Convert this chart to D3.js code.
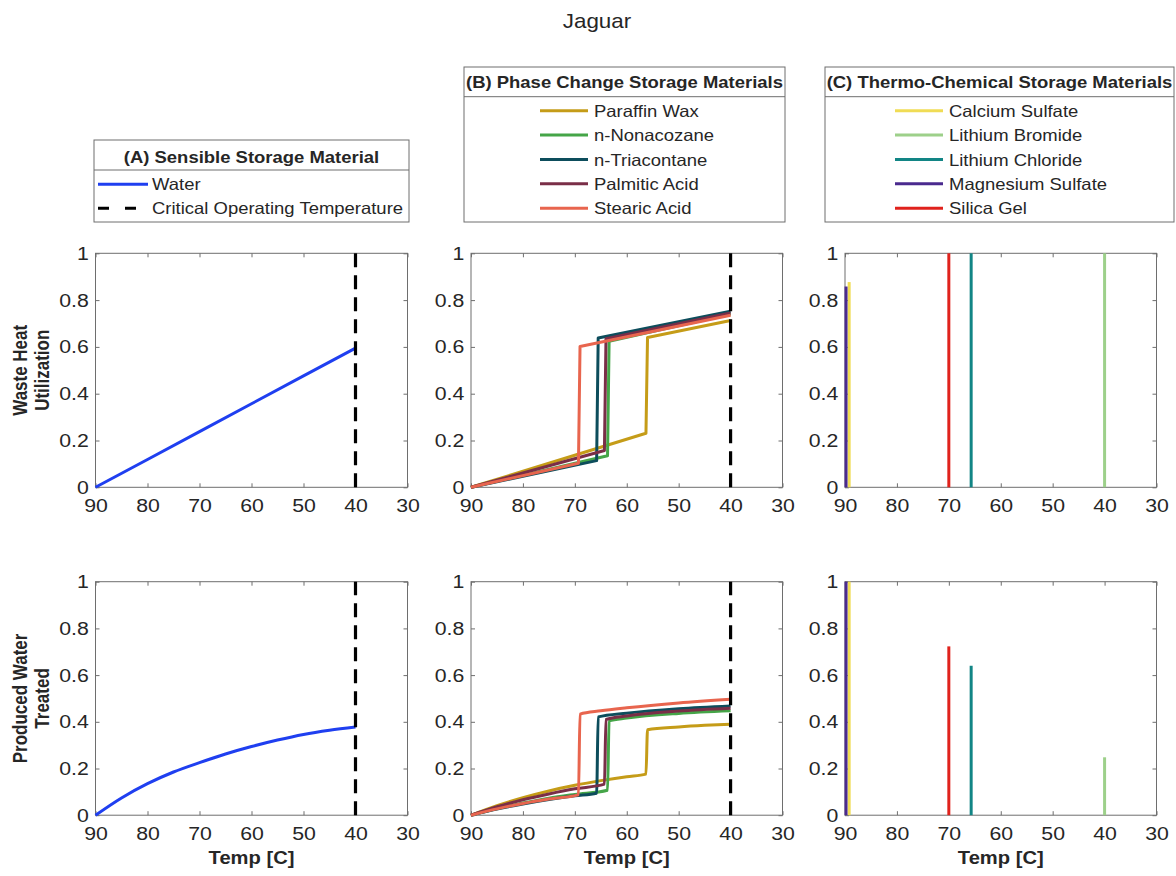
<!DOCTYPE html>
<html><head><meta charset="utf-8">
<script src="https://cdn.jsdelivr.net/npm/d3@7"></script>
<style>body{margin:0;background:#fff} svg{font-family:"Liberation Sans",Arial,sans-serif}</style>
</head><body><svg id="c" width="1176" height="876"></svg>
<script>
// ---------- DATA ----------
const tempTicks = [90, 80, 70, 60, 50, 40, 30];
const yTicks = [0, 0.2, 0.4, 0.6, 0.8, 1];
const criticalTemp = 40;

// (A) Sensible: water  [temp, value]
const waterWaste = [[90,0],[80,0.119],[70,0.238],[60,0.357],[50,0.476],[40,0.595]];
const waterTreated = [[90,0],[85,0.074],[80,0.135],[75,0.185],[70,0.225],[65,0.262],[60,0.294],[55,0.322],[50,0.346],[45,0.364],[40,0.378]];

// (B) Phase change materials
const pcmNames = ["Paraffin Wax","n-Nonacozane","n-Triacontane","Palmitic Acid","Stearic Acid"];
const paraffinWaste    = [[90,0],[56.3,0.231],[56.0,0.640],[40,0.713]];
const nonacozaneWaste  = [[90,0],[63.7,0.135],[63.4,0.624],[40,0.740]];
const triacontaneWaste = [[90,0],[65.8,0.114],[65.5,0.638],[40,0.752]];
const palmiticWaste    = [[90,0],[64.3,0.157],[64.0,0.635],[40,0.745]];
const stearicWaste     = [[90,0],[69.3,0.103],[69.0,0.602],[40,0.735]];

const paraffinTreated    = [[90,0],[85,0.041],[80,0.075],[75,0.104],[70,0.128],[65,0.148],[60,0.165],[56.3,0.176],[56.0,0.366],[50,0.378],[45,0.385],[40,0.390]];
const nonacozaneTreated  = [[90,0],[85,0.029],[80,0.052],[75,0.073],[70,0.089],[63.7,0.107],[63.4,0.404],[60,0.416],[50,0.436],[40,0.447]];
const triacontaneTreated = [[90,0],[85,0.026],[80,0.048],[75,0.067],[70,0.083],[65.8,0.094],[65.5,0.421],[60,0.437],[50,0.456],[40,0.468]];
const palmiticTreated    = [[90,0],[85,0.036],[80,0.066],[75,0.091],[70,0.113],[64.3,0.133],[64.0,0.410],[60,0.425],[50,0.446],[40,0.458]];
const stearicTreated     = [[90,0],[85,0.027],[80,0.050],[75,0.069],[69.3,0.087],[69.0,0.433],[65,0.447],[60,0.460],[50,0.481],[40,0.497]];

// (C) Thermo-chemical materials (single temperature each)
const tcmNames   = ["Calcium Sulfate","Lithium Bromide","Lithium Chloride","Magnesium Sulfate","Silica Gel"];
const tcmTemp    = [89.2, 40, 65.7, 89.8, 70];
const tcmWaste   = [0.877, 1, 1, 0.858, 1];
const tcmTreated = [1, 0.248, 0.64, 1, 0.723];

// ---------- STYLE ----------
const waterColor = "#1f3ff0";
const pcmColors = ["#c59c18","#45a548","#0d4d5c","#7a2e47","#e8654e"];
const tcmColors = ["#f0dc55","#9dd08a","#128585","#4a2a8e","#e0221c"];
const SX = 1.12;
const textColor = "#262626";
const axisColor = "#6e6e6e";

const svg = d3.select("#c");
const panelX = [[95.5,407.5],[471,782.5],[845,1156.5]];
const rowY = [[253.3,487.3],[581.7,815.2]];

function stext(parent, x, y, str, opts) {
  const sx = opts.sx || SX;
  const g = parent.append("g").attr("transform", `translate(${x},${y}) scale(${sx},1)` + (opts.rotate ? " rotate(-90)" : ""));
  g.append("text").attr("x",0).attr("y",0)
    .attr("text-anchor", opts.anchor || "middle")
    .attr("font-size", opts.size)
    .attr("font-weight", opts.bold ? "bold" : "normal")
    .attr("fill", opts.fill || textColor)
    .text(str);
  return g;
}

function makePanel(col, row) {
  const x = d3.scaleLinear().domain([90,30]).range(panelX[col]);
  const y = d3.scaleLinear().domain([0,1]).range([rowY[row][1], rowY[row][0]]);
  const g = svg.append("g");
  const [x0,x1] = x.range(); const [yb,yt] = y.range();
  const styleAxis = (a) => { a.attr("color", axisColor); a.select(".domain").remove(); };
  const bottom = g.append("g").attr("transform",`translate(0,${yb})`)
    .call(d3.axisBottom(x).tickValues(tempTicks).tickSizeInner(-4).tickSizeOuter(0).tickPadding(11).tickFormat(d=>String(d)));
  styleAxis(bottom);
  bottom.selectAll("text").attr("font-size",19).attr("fill",textColor).attr("font-family","Liberation Sans, Arial, sans-serif").attr("transform",`scale(${SX},1)`);
  const left = g.append("g").attr("transform",`translate(${x0},0)`)
    .call(d3.axisLeft(y).tickValues(yTicks).tickSizeInner(-4).tickSizeOuter(0).tickPadding(6).tickFormat(d=>String(d)));
  styleAxis(left);
  left.selectAll("text").attr("font-size",19).attr("fill",textColor).attr("font-family","Liberation Sans, Arial, sans-serif").attr("transform",`scale(${SX},1)`);
  const top = g.append("g").attr("transform",`translate(0,${yt})`)
    .call(d3.axisTop(x).tickValues(tempTicks).tickSizeInner(-4).tickSizeOuter(0).tickFormat(""));
  styleAxis(top);
  const right = g.append("g").attr("transform",`translate(${x1},0)`)
    .call(d3.axisRight(y).tickValues(yTicks).tickSizeInner(-4).tickSizeOuter(0).tickFormat(""));
  styleAxis(right);
  g.append("rect").attr("x",x0).attr("y",yt).attr("width",x1-x0).attr("height",yb-yt)
    .attr("fill","none").attr("stroke",axisColor).attr("stroke-width",1);
  const line = d3.line().x(d=>x(d[0])).y(d=>y(d[1]));
  const smooth = d3.line().x(d=>x(d[0])).y(d=>y(d[1])).curve(d3.curveMonotoneX);
  return {g, x, y, line, smooth};
}

function drawLine(p, data, color, width, dash, smooth) {
  p.g.append("path").datum(data).attr("d", smooth ? p.smooth : p.line)
    .attr("fill","none").attr("stroke",color).attr("stroke-width",width)
    .attr("stroke-linejoin","round")
    .attr("stroke-dasharray", dash || null);
}

function criticalLine(p) {
  drawLine(p, [[criticalTemp,0],[criticalTemp,1]], "#000", 3.2, "14,8");
}

// ---------- PANELS ----------
const pcmWaste = [paraffinWaste, nonacozaneWaste, triacontaneWaste, palmiticWaste, stearicWaste];
const pcmTreated = [paraffinTreated, nonacozaneTreated, triacontaneTreated, palmiticTreated, stearicTreated];

[0,1].forEach(row => {
  // A
  const pa = makePanel(0,row);
  drawLine(pa, row===0 ? waterWaste : waterTreated, waterColor, 3, null, row===1);
  criticalLine(pa);
  // B
  const pb = makePanel(1,row);
  (row===0 ? pcmWaste : pcmTreated).forEach((d,i) => drawLine(pb, d, pcmColors[i], 3, null, row===1));
  criticalLine(pb);
  // C
  const pc = makePanel(2,row);
  const vals = row===0 ? tcmWaste : tcmTreated;
  tcmNames.forEach((n,i) => drawLine(pc, [[tcmTemp[i],0],[tcmTemp[i],vals[i]]], tcmColors[i], 3));
});

// ---------- LABELS ----------
stext(svg, 597, 28, "Jaguar", {size:20});

const ylabels = [["Waste Heat","Utilization"],["Produced Water","Treated"]];
ylabels.forEach((lab,row) => {
  const cy = (rowY[row][0]+rowY[row][1])/2;
  stext(svg, 20+6.5, cy, lab[0], {size:17, bold:true, rotate:true, sx:1.18});
  stext(svg, 42+6.5, cy, lab[1], {size:17, bold:true, rotate:true, sx:1.18});
});

panelX.forEach(px => {
  stext(svg, (px[0]+px[1])/2, 864, "Temp [C]", {size:18, bold:true});
});

// ---------- LEGENDS ----------
function legend(box, title, titleY, divY, entries, lx0, lx1, tx) {
  const g = svg.append("g");
  g.append("rect").attr("x",box[0]).attr("y",box[1]).attr("width",box[2]-box[0]).attr("height",box[3]-box[1])
    .attr("fill","#fff").attr("stroke","#6e6e6e").attr("stroke-width",1);
  g.append("line").attr("x1",box[0]).attr("x2",box[2]).attr("y1",divY).attr("y2",divY)
    .attr("stroke","#6e6e6e").attr("stroke-width",1);
  stext(g, (box[0]+box[2])/2, titleY+6, title, {size:16.5, bold:true});
  entries.forEach(e => {
    g.append("line").attr("x1",lx0).attr("x2",lx1).attr("y1",e.y).attr("y2",e.y)
      .attr("stroke",e.color).attr("stroke-width",3).attr("stroke-dasharray",e.dash||null);
    stext(g, tx, e.y+6, e.label, {size:16.5, anchor:"start"});
  });
}

const entryY = [110.7, 135, 159.5, 183.7, 208.3];
legend([94,140,409,222], "(A) Sensible Storage Material", 156.7, 170,
  [{label:"Water", color:waterColor, y:184.3},
   {label:"Critical Operating Temperature", color:"#000", y:208.3, dash:"11,16"}],
  98, 148, 152);
legend([464,67,785,222], "(B) Phase Change Storage Materials", 81.7, 96.7,
  pcmNames.map((n,i)=>({label:n, color:pcmColors[i], y:entryY[i]})), 540, 588, 594);
legend([825,67,1174,222], "(C) Thermo-Chemical Storage Materials", 81.7, 96.7,
  tcmNames.map((n,i)=>({label:n, color:tcmColors[i], y:entryY[i]})), 895, 943, 949);
</script></body></html>
